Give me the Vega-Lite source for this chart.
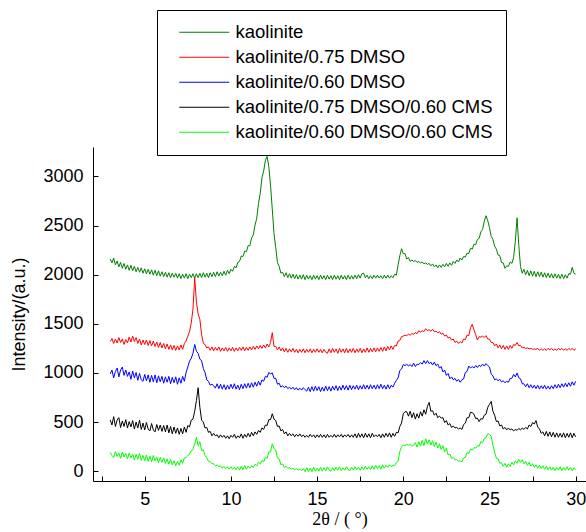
{
"$schema": "https://vega.github.io/schema/vega-lite/v6.json",
"width": 493, "height": 334,
"autosize": {"type": "none"},
"padding": {"left": 93, "top": 147, "right": 0, "bottom": 51},
"background": "white",
"config": {"view": {"stroke": null}, "font": "Liberation Sans"},
"datasets": {
"series": [
{"key":"a","name":"kaolinite"},
{"key":"b","name":"kaolinite/0.75 DMSO"},
{"key":"c","name":"kaolinite/0.60 DMSO"},
{"key":"d","name":"kaolinite/0.75 DMSO/0.60 CMS"},
{"key":"e","name":"kaolinite/0.60 DMSO/0.60 CMS"}
],
"xrd": [
{"x":3.0,"a":2160,"b":1320,"c":990,"d":520,"e":190},
{"x":3.1,"a":2120,"b":1350,"c":1030,"d":470,"e":160},
{"x":3.2,"a":2170,"b":1300,"c":950,"d":555,"e":140},
{"x":3.3,"a":2100,"b":1345,"c":1015,"d":455,"e":200},
{"x":3.4,"a":2140,"b":1305,"c":1050,"d":520,"e":150},
{"x":3.5,"a":2080,"b":1360,"c":960,"d":545,"e":185},
{"x":3.6,"a":2125,"b":1310,"c":1030,"d":445,"e":130},
{"x":3.7,"a":2065,"b":1345,"c":1060,"d":510,"e":195},
{"x":3.8,"a":2115,"b":1290,"c":975,"d":455,"e":145},
{"x":3.9,"a":2055,"b":1340,"c":1030,"d":525,"e":180},
{"x":4.0,"a":2100,"b":1305,"c":965,"d":440,"e":125},
{"x":4.1,"a":2045,"b":1365,"c":1010,"d":505,"e":185},
{"x":4.2,"a":2095,"b":1315,"c":935,"d":450,"e":135},
{"x":4.3,"a":2040,"b":1375,"c":1020,"d":515,"e":175},
{"x":4.4,"a":2085,"b":1320,"c":950,"d":430,"e":115},
{"x":4.5,"a":2030,"b":1360,"c":1005,"d":500,"e":170},
{"x":4.6,"a":2075,"b":1300,"c":925,"d":440,"e":120},
{"x":4.7,"a":2025,"b":1345,"c":995,"d":520,"e":180},
{"x":4.8,"a":2070,"b":1285,"c":930,"d":425,"e":110},
{"x":4.9,"a":2015,"b":1335,"c":915,"d":490,"e":160},
{"x":5.0,"a":2060,"b":1290,"c":985,"d":420,"e":105},
{"x":5.1,"a":2010,"b":1335,"c":920,"d":495,"e":165},
{"x":5.2,"a":2055,"b":1280,"c":980,"d":430,"e":100},
{"x":5.3,"a":2005,"b":1330,"c":905,"d":410,"e":155},
{"x":5.4,"a":2050,"b":1275,"c":975,"d":485,"e":95},
{"x":5.5,"a":1995,"b":1325,"c":910,"d":420,"e":160},
{"x":5.6,"a":2045,"b":1270,"c":980,"d":400,"e":105},
{"x":5.7,"a":1990,"b":1315,"c":900,"d":475,"e":145},
{"x":5.8,"a":2040,"b":1260,"c":970,"d":415,"e":85},
{"x":5.9,"a":1985,"b":1310,"c":910,"d":470,"e":140},
{"x":6.0,"a":2030,"b":1255,"c":965,"d":405,"e":90},
{"x":6.1,"a":1980,"b":1300,"c":895,"d":465,"e":135},
{"x":6.2,"a":2025,"b":1245,"c":960,"d":400,"e":80},
{"x":6.3,"a":1975,"b":1295,"c":905,"d":470,"e":125},
{"x":6.4,"a":2020,"b":1240,"c":965,"d":390,"e":70},
{"x":6.5,"a":1970,"b":1285,"c":890,"d":455,"e":120},
{"x":6.6,"a":2015,"b":1235,"c":955,"d":380,"e":65},
{"x":6.7,"a":1975,"b":1280,"c":900,"d":450,"e":105},
{"x":6.8,"a":2015,"b":1230,"c":960,"d":385,"e":55},
{"x":6.9,"a":1965,"b":1275,"c":885,"d":440,"e":100},
{"x":7.0,"a":2010,"b":1235,"c":950,"d":375,"e":60},
{"x":7.1,"a":1960,"b":1285,"c":895,"d":435,"e":115},
{"x":7.2,"a":2005,"b":1240,"c":965,"d":380,"e":80},
{"x":7.3,"a":1965,"b":1300,"c":915,"d":450,"e":135},
{"x":7.4,"a":2010,"b":1325,"c":1005,"d":395,"e":140},
{"x":7.5,"a":1960,"b":1375,"c":1060,"d":465,"e":155},
{"x":7.6,"a":2005,"b":1420,"c":1120,"d":450,"e":175},
{"x":7.7,"a":1970,"b":1510,"c":1150,"d":520,"e":210},
{"x":7.8,"a":2010,"b":1650,"c":1200,"d":530,"e":220},
{"x":7.9,"a":1965,"b":1965,"c":1290,"d":610,"e":275},
{"x":8.0,"a":2010,"b":1720,"c":1220,"d":720,"e":345},
{"x":8.1,"a":1970,"b":1600,"c":1200,"d":850,"e":260},
{"x":8.2,"a":2015,"b":1545,"c":1140,"d":650,"e":300},
{"x":8.3,"a":1970,"b":1390,"c":1125,"d":520,"e":210},
{"x":8.4,"a":2020,"b":1300,"c":1045,"d":500,"e":215},
{"x":8.5,"a":1975,"b":1290,"c":1005,"d":440,"e":160},
{"x":8.6,"a":2015,"b":1255,"c":930,"d":445,"e":135},
{"x":8.7,"a":1970,"b":1265,"c":915,"d":395,"e":100},
{"x":8.8,"a":2020,"b":1230,"c":875,"d":405,"e":95},
{"x":8.9,"a":1980,"b":1265,"c":885,"d":360,"e":80},
{"x":9.0,"a":2025,"b":1225,"c":870,"d":385,"e":75},
{"x":9.1,"a":1980,"b":1260,"c":845,"d":360,"e":55},
{"x":9.2,"a":2030,"b":1230,"c":890,"d":370,"e":65},
{"x":9.3,"a":1985,"b":1265,"c":840,"d":340,"e":45},
{"x":9.4,"a":2025,"b":1220,"c":885,"d":370,"e":55},
{"x":9.5,"a":1990,"b":1255,"c":835,"d":345,"e":30},
{"x":9.6,"a":2035,"b":1225,"c":880,"d":365,"e":50},
{"x":9.7,"a":1995,"b":1260,"c":830,"d":335,"e":25},
{"x":9.8,"a":2045,"b":1220,"c":875,"d":360,"e":45},
{"x":9.9,"a":2010,"b":1255,"c":835,"d":330,"e":20},
{"x":10.0,"a":2055,"b":1225,"c":885,"d":365,"e":45},
{"x":10.1,"a":2035,"b":1260,"c":840,"d":345,"e":20},
{"x":10.2,"a":2085,"b":1220,"c":890,"d":375,"e":40},
{"x":10.3,"a":2070,"b":1255,"c":835,"d":335,"e":15},
{"x":10.4,"a":2125,"b":1225,"c":875,"d":360,"e":45},
{"x":10.5,"a":2135,"b":1260,"c":830,"d":340,"e":10},
{"x":10.6,"a":2190,"b":1230,"c":885,"d":380,"e":50},
{"x":10.7,"a":2185,"b":1265,"c":840,"d":335,"e":15},
{"x":10.8,"a":2240,"b":1225,"c":890,"d":375,"e":55},
{"x":10.9,"a":2235,"b":1260,"c":845,"d":345,"e":20},
{"x":11.0,"a":2295,"b":1230,"c":895,"d":385,"e":50},
{"x":11.1,"a":2295,"b":1265,"c":850,"d":350,"e":30},
{"x":11.2,"a":2375,"b":1235,"c":900,"d":395,"e":55},
{"x":11.3,"a":2405,"b":1270,"c":855,"d":360,"e":40},
{"x":11.4,"a":2505,"b":1240,"c":905,"d":400,"e":70},
{"x":11.5,"a":2575,"b":1275,"c":865,"d":375,"e":55},
{"x":11.6,"a":2725,"b":1245,"c":915,"d":415,"e":90},
{"x":11.7,"a":2825,"b":1280,"c":875,"d":395,"e":75},
{"x":11.8,"a":2985,"b":1250,"c":930,"d":440,"e":110},
{"x":11.9,"a":3055,"b":1285,"c":915,"d":425,"e":95},
{"x":12.0,"a":3165,"b":1255,"c":965,"d":470,"e":140},
{"x":12.1,"a":3205,"b":1295,"c":955,"d":465,"e":130},
{"x":12.2,"a":3100,"b":1265,"c":1005,"d":525,"e":195},
{"x":12.3,"a":2905,"b":1310,"c":990,"d":525,"e":195},
{"x":12.4,"a":2670,"b":1410,"c":1000,"d":585,"e":280},
{"x":12.5,"a":2420,"b":1270,"c":945,"d":530,"e":230},
{"x":12.6,"a":2275,"b":1270,"c":945,"d":515,"e":215},
{"x":12.7,"a":2125,"b":1235,"c":885,"d":455,"e":135},
{"x":12.8,"a":2085,"b":1265,"c":895,"d":460,"e":125},
{"x":12.9,"a":2015,"b":1225,"c":855,"d":410,"e":65},
{"x":13.0,"a":2025,"b":1255,"c":870,"d":425,"e":75},
{"x":13.1,"a":1980,"b":1215,"c":850,"d":380,"e":35},
{"x":13.2,"a":2020,"b":1250,"c":865,"d":400,"e":50},
{"x":13.3,"a":1970,"b":1210,"c":840,"d":360,"e":30},
{"x":13.4,"a":2010,"b":1245,"c":855,"d":385,"e":35},
{"x":13.5,"a":1965,"b":1215,"c":835,"d":360,"e":20},
{"x":13.6,"a":2005,"b":1250,"c":855,"d":380,"e":30},
{"x":13.7,"a":1960,"b":1210,"c":830,"d":350,"e":15},
{"x":13.8,"a":2000,"b":1240,"c":850,"d":375,"e":25},
{"x":13.9,"a":1955,"b":1205,"c":825,"d":355,"e":10},
{"x":14.0,"a":1995,"b":1240,"c":845,"d":380,"e":20},
{"x":14.1,"a":1955,"b":1210,"c":825,"d":350,"e":5},
{"x":14.2,"a":2000,"b":1245,"c":850,"d":370,"e":25},
{"x":14.3,"a":1950,"b":1205,"c":830,"d":345,"e":-5},
{"x":14.4,"a":1995,"b":1240,"c":815,"d":365,"e":35},
{"x":14.5,"a":1955,"b":1210,"c":855,"d":345,"e":-5},
{"x":14.6,"a":1990,"b":1245,"c":810,"d":375,"e":30},
{"x":14.7,"a":1950,"b":1205,"c":860,"d":350,"e":-5},
{"x":14.8,"a":1995,"b":1240,"c":815,"d":370,"e":40},
{"x":14.9,"a":1955,"b":1210,"c":865,"d":340,"e":0},
{"x":15.0,"a":1990,"b":1245,"c":820,"d":370,"e":30},
{"x":15.1,"a":1950,"b":1210,"c":860,"d":345,"e":0},
{"x":15.2,"a":1995,"b":1240,"c":810,"d":375,"e":40},
{"x":15.3,"a":1955,"b":1205,"c":855,"d":345,"e":0},
{"x":15.4,"a":1990,"b":1240,"c":815,"d":370,"e":35},
{"x":15.5,"a":1950,"b":1210,"c":865,"d":340,"e":5},
{"x":15.6,"a":1995,"b":1200,"c":820,"d":375,"e":45},
{"x":15.7,"a":1955,"b":1245,"c":860,"d":345,"e":10},
{"x":15.8,"a":1990,"b":1205,"c":815,"d":365,"e":0},
{"x":15.9,"a":1950,"b":1250,"c":865,"d":345,"e":35},
{"x":16.0,"a":1995,"b":1210,"c":825,"d":375,"e":5},
{"x":16.1,"a":1955,"b":1245,"c":870,"d":345,"e":40},
{"x":16.2,"a":1990,"b":1200,"c":820,"d":370,"e":10},
{"x":16.3,"a":1950,"b":1250,"c":865,"d":350,"e":45},
{"x":16.4,"a":1995,"b":1210,"c":825,"d":375,"e":5},
{"x":16.5,"a":1955,"b":1245,"c":875,"d":345,"e":35},
{"x":16.6,"a":1990,"b":1205,"c":830,"d":370,"e":10},
{"x":16.7,"a":1950,"b":1250,"c":870,"d":350,"e":45},
{"x":16.8,"a":1995,"b":1205,"c":825,"d":375,"e":15},
{"x":16.9,"a":1955,"b":1245,"c":875,"d":345,"e":5},
{"x":17.0,"a":1990,"b":1210,"c":830,"d":370,"e":40},
{"x":17.1,"a":1955,"b":1250,"c":870,"d":345,"e":10},
{"x":17.2,"a":1995,"b":1205,"c":835,"d":380,"e":45},
{"x":17.3,"a":1960,"b":1245,"c":875,"d":340,"e":15},
{"x":17.4,"a":2000,"b":1210,"c":830,"d":385,"e":40},
{"x":17.5,"a":1965,"b":1250,"c":870,"d":345,"e":10},
{"x":17.6,"a":2010,"b":1205,"c":835,"d":380,"e":45},
{"x":17.7,"a":2015,"b":1245,"c":880,"d":340,"e":15},
{"x":17.8,"a":1970,"b":1210,"c":835,"d":385,"e":50},
{"x":17.9,"a":1995,"b":1255,"c":875,"d":345,"e":20},
{"x":18.0,"a":1960,"b":1210,"c":835,"d":380,"e":45},
{"x":18.1,"a":1990,"b":1250,"c":880,"d":340,"e":15},
{"x":18.2,"a":1960,"b":1215,"c":840,"d":385,"e":55},
{"x":18.3,"a":1995,"b":1255,"c":875,"d":350,"e":20},
{"x":18.4,"a":1965,"b":1215,"c":835,"d":370,"e":60},
{"x":18.5,"a":1995,"b":1255,"c":880,"d":350,"e":25},
{"x":18.6,"a":1965,"b":1220,"c":840,"d":375,"e":55},
{"x":18.7,"a":1990,"b":1260,"c":885,"d":340,"e":20},
{"x":18.8,"a":1960,"b":1220,"c":840,"d":380,"e":65},
{"x":18.9,"a":1995,"b":1265,"c":875,"d":345,"e":30},
{"x":19.0,"a":1965,"b":1225,"c":835,"d":385,"e":60},
{"x":19.1,"a":1995,"b":1270,"c":880,"d":350,"e":40},
{"x":19.2,"a":1965,"b":1235,"c":840,"d":390,"e":65},
{"x":19.3,"a":1990,"b":1275,"c":875,"d":345,"e":45},
{"x":19.4,"a":1970,"b":1240,"c":855,"d":385,"e":60},
{"x":19.5,"a":2005,"b":1280,"c":895,"d":355,"e":55},
{"x":19.6,"a":1995,"b":1275,"c":925,"d":395,"e":90},
{"x":19.7,"a":2100,"b":1325,"c":950,"d":390,"e":100},
{"x":19.8,"a":2195,"b":1330,"c":1025,"d":455,"e":200},
{"x":19.9,"a":2265,"b":1370,"c":1040,"d":490,"e":250},
{"x":20.0,"a":2215,"b":1375,"c":1085,"d":585,"e":265},
{"x":20.1,"a":2215,"b":1385,"c":1075,"d":605,"e":260},
{"x":20.2,"a":2160,"b":1380,"c":1090,"d":605,"e":275},
{"x":20.3,"a":2175,"b":1395,"c":1070,"d":560,"e":265},
{"x":20.4,"a":2135,"b":1385,"c":1085,"d":610,"e":270},
{"x":20.5,"a":2150,"b":1400,"c":1065,"d":545,"e":255},
{"x":20.6,"a":2135,"b":1395,"c":1100,"d":595,"e":265},
{"x":20.7,"a":2145,"b":1410,"c":1065,"d":530,"e":290},
{"x":20.8,"a":2125,"b":1400,"c":1090,"d":585,"e":245},
{"x":20.9,"a":2135,"b":1430,"c":1085,"d":540,"e":300},
{"x":21.0,"a":2120,"b":1415,"c":1105,"d":605,"e":255},
{"x":21.1,"a":2130,"b":1430,"c":1090,"d":560,"e":315},
{"x":21.2,"a":2110,"b":1420,"c":1125,"d":625,"e":260},
{"x":21.3,"a":2120,"b":1450,"c":1095,"d":580,"e":330},
{"x":21.4,"a":2105,"b":1430,"c":1125,"d":660,"e":275},
{"x":21.5,"a":2115,"b":1440,"c":1095,"d":700,"e":320},
{"x":21.6,"a":2090,"b":1425,"c":1110,"d":610,"e":265},
{"x":21.7,"a":2110,"b":1445,"c":1080,"d":615,"e":310},
{"x":21.8,"a":2080,"b":1420,"c":1110,"d":570,"e":250},
{"x":21.9,"a":2100,"b":1425,"c":1075,"d":590,"e":295},
{"x":22.0,"a":2070,"b":1410,"c":1090,"d":545,"e":235},
{"x":22.1,"a":2100,"b":1420,"c":1050,"d":560,"e":280},
{"x":22.2,"a":2075,"b":1395,"c":1065,"d":540,"e":220},
{"x":22.3,"a":2105,"b":1405,"c":1010,"d":545,"e":260},
{"x":22.4,"a":2080,"b":1375,"c":1030,"d":495,"e":195},
{"x":22.5,"a":2115,"b":1385,"c":975,"d":515,"e":235},
{"x":22.6,"a":2085,"b":1355,"c":995,"d":470,"e":165},
{"x":22.7,"a":2120,"b":1365,"c":940,"d":485,"e":175},
{"x":22.8,"a":2095,"b":1335,"c":960,"d":445,"e":130},
{"x":22.9,"a":2135,"b":1345,"c":930,"d":460,"e":140},
{"x":23.0,"a":2115,"b":1310,"c":945,"d":440,"e":115},
{"x":23.1,"a":2150,"b":1325,"c":915,"d":445,"e":120},
{"x":23.2,"a":2130,"b":1300,"c":935,"d":430,"e":100},
{"x":23.3,"a":2170,"b":1320,"c":905,"d":440,"e":105},
{"x":23.4,"a":2150,"b":1305,"c":930,"d":425,"e":95},
{"x":23.5,"a":2185,"b":1345,"c":940,"d":475,"e":135},
{"x":23.6,"a":2180,"b":1340,"c":1005,"d":490,"e":140},
{"x":23.7,"a":2220,"b":1385,"c":1015,"d":545,"e":190},
{"x":23.8,"a":2215,"b":1380,"c":1070,"d":545,"e":180},
{"x":23.9,"a":2270,"b":1460,"c":1050,"d":600,"e":225},
{"x":24.0,"a":2260,"b":1495,"c":1065,"d":595,"e":215},
{"x":24.1,"a":2310,"b":1440,"c":1050,"d":580,"e":240},
{"x":24.2,"a":2305,"b":1390,"c":1075,"d":535,"e":235},
{"x":24.3,"a":2360,"b":1335,"c":1055,"d":540,"e":260},
{"x":24.4,"a":2370,"b":1370,"c":1080,"d":505,"e":255},
{"x":24.5,"a":2435,"b":1365,"c":1065,"d":535,"e":300},
{"x":24.6,"a":2460,"b":1375,"c":1090,"d":530,"e":290},
{"x":24.7,"a":2545,"b":1360,"c":1070,"d":570,"e":335},
{"x":24.8,"a":2600,"b":1380,"c":1095,"d":580,"e":340},
{"x":24.9,"a":2550,"b":1345,"c":1075,"d":650,"e":380},
{"x":25.0,"a":2480,"b":1345,"c":1060,"d":680,"e":375},
{"x":25.1,"a":2390,"b":1310,"c":990,"d":710,"e":355},
{"x":25.2,"a":2360,"b":1310,"c":970,"d":610,"e":260},
{"x":25.3,"a":2290,"b":1275,"c":930,"d":570,"e":195},
{"x":25.4,"a":2260,"b":1295,"c":940,"d":505,"e":130},
{"x":25.5,"a":2200,"b":1255,"c":920,"d":510,"e":125},
{"x":25.6,"a":2195,"b":1285,"c":935,"d":460,"e":80},
{"x":25.7,"a":2125,"b":1245,"c":910,"d":470,"e":85},
{"x":25.8,"a":2120,"b":1280,"c":920,"d":430,"e":50},
{"x":25.9,"a":2065,"b":1240,"c":900,"d":445,"e":80},
{"x":26.0,"a":2090,"b":1275,"c":915,"d":420,"e":40},
{"x":26.1,"a":2085,"b":1240,"c":905,"d":440,"e":75},
{"x":26.2,"a":2130,"b":1280,"c":945,"d":420,"e":50},
{"x":26.3,"a":2115,"b":1250,"c":945,"d":430,"e":90},
{"x":26.4,"a":2175,"b":1290,"c":985,"d":410,"e":65},
{"x":26.5,"a":2340,"b":1280,"c":960,"d":425,"e":105},
{"x":26.6,"a":2580,"b":1310,"c":1000,"d":415,"e":80},
{"x":26.7,"a":2300,"b":1275,"c":950,"d":435,"e":120},
{"x":26.8,"a":2085,"b":1280,"c":940,"d":420,"e":90},
{"x":26.9,"a":2015,"b":1255,"c":890,"d":440,"e":115},
{"x":27.0,"a":2055,"b":1260,"c":890,"d":425,"e":75},
{"x":27.1,"a":2000,"b":1250,"c":860,"d":445,"e":100},
{"x":27.2,"a":2045,"b":1255,"c":890,"d":430,"e":60},
{"x":27.3,"a":1990,"b":1245,"c":850,"d":470,"e":90},
{"x":27.4,"a":2040,"b":1250,"c":880,"d":455,"e":50},
{"x":27.5,"a":1985,"b":1240,"c":845,"d":495,"e":75},
{"x":27.6,"a":2035,"b":1245,"c":875,"d":480,"e":40},
{"x":27.7,"a":1980,"b":1240,"c":840,"d":515,"e":65},
{"x":27.8,"a":2030,"b":1250,"c":875,"d":450,"e":30},
{"x":27.9,"a":1980,"b":1230,"c":835,"d":430,"e":60},
{"x":28.0,"a":2025,"b":1245,"c":870,"d":385,"e":25},
{"x":28.1,"a":1975,"b":1230,"c":840,"d":400,"e":55},
{"x":28.2,"a":2020,"b":1245,"c":875,"d":360,"e":20},
{"x":28.3,"a":1970,"b":1230,"c":835,"d":405,"e":50},
{"x":28.4,"a":2015,"b":1250,"c":865,"d":355,"e":15},
{"x":28.5,"a":1970,"b":1235,"c":835,"d":400,"e":45},
{"x":28.6,"a":2010,"b":1250,"c":870,"d":350,"e":10},
{"x":28.7,"a":1965,"b":1230,"c":840,"d":395,"e":40},
{"x":28.8,"a":2010,"b":1245,"c":880,"d":345,"e":5},
{"x":28.9,"a":1965,"b":1230,"c":845,"d":390,"e":40},
{"x":29.0,"a":2005,"b":1250,"c":885,"d":345,"e":10},
{"x":29.1,"a":1960,"b":1235,"c":850,"d":385,"e":45},
{"x":29.2,"a":2005,"b":1250,"c":890,"d":345,"e":5},
{"x":29.3,"a":1960,"b":1230,"c":855,"d":390,"e":40},
{"x":29.4,"a":2000,"b":1245,"c":895,"d":340,"e":10},
{"x":29.5,"a":1965,"b":1230,"c":860,"d":385,"e":45},
{"x":29.6,"a":2010,"b":1250,"c":900,"d":345,"e":10},
{"x":29.7,"a":2005,"b":1235,"c":865,"d":390,"e":40},
{"x":29.8,"a":2075,"b":1250,"c":910,"d":340,"e":5},
{"x":29.9,"a":2015,"b":1230,"c":875,"d":385,"e":35},
{"x":30.0,"a":2005,"b":1245,"c":915,"d":350,"e":15}
]
},
"layer": [
{
"data": {"name": "xrd"},
"transform": [
{"fold": ["a","b","c","d","e"], "as": ["key","intensity"]},
{"lookup": "key", "from": {"data": {"name": "series"}, "key": "key", "fields": ["name"]}}
],
"mark": {"type": "line", "strokeWidth": 1, "clip": true},
"encoding": {
"x": {"field": "x", "type": "quantitative",
"scale": {"domain": [2, 30.6], "nice": false, "zero": false},
"axis": {"title": "2θ / ( °)", "values": [2.5,5,7.5,10,12.5,15,17.5,20,22.5,25,27.5,30],
"labelExpr": "datum.value % 5 === 0 ? datum.label : ''", "format": "d",
"grid": false, "tickSize": -5, "tickColor": "black", "domainColor": "black",
"labelFontSize": 18, "labelColor": "black", "labelPadding": 14,
"titleFont": "Liberation Serif", "titleFontSize": 18, "titleFontWeight": "normal", "titleColor": "black", "titlePadding": 2}},
"y": {"field": "intensity", "type": "quantitative",
"scale": {"domain": [-100, 3300], "nice": false, "zero": false},
"axis": {"title": "Intensity/(a.u.)", "values": [0,250,500,750,1000,1250,1500,1750,2000,2250,2500,2750,3000,3250],
"labelExpr": "datum.value % 500 === 0 ? datum.label : ''", "format": "d",
"grid": false, "tickSize": -5, "tickColor": "black", "domainColor": "black",
"labelFontSize": 18, "labelColor": "black", "labelPadding": 15,
"titleFontSize": 18, "titleFontWeight": "normal", "titleColor": "black", "titlePadding": 14}},
"color": {"field": "name", "type": "nominal",
"scale": {"domain": ["kaolinite","kaolinite/0.75 DMSO","kaolinite/0.60 DMSO","kaolinite/0.75 DMSO/0.60 CMS","kaolinite/0.60 DMSO/0.60 CMS"],
"range": ["#008000","#ff0000","#0000ff","#000000","#00ff00"]},
"legend": {"orient": "none", "legendX": 64, "legendY": -137, "title": null,
"strokeColor": "black", "fillColor": "white", "padding": 13,
"labelFontSize": 18.5, "labelColor": "black", "labelLimit": 400, "rowPadding": 6,
"symbolType": "M-5,0H5", "symbolSize": 100, "symbolStrokeWidth": 1.2,
"symbolOffset": 25, "labelOffset": 22}}
}
},
{
"mark": {"type": "rule", "color": "black", "strokeWidth": 1},
"encoding": {"y": {"datum": 3300}}
}
]
}
